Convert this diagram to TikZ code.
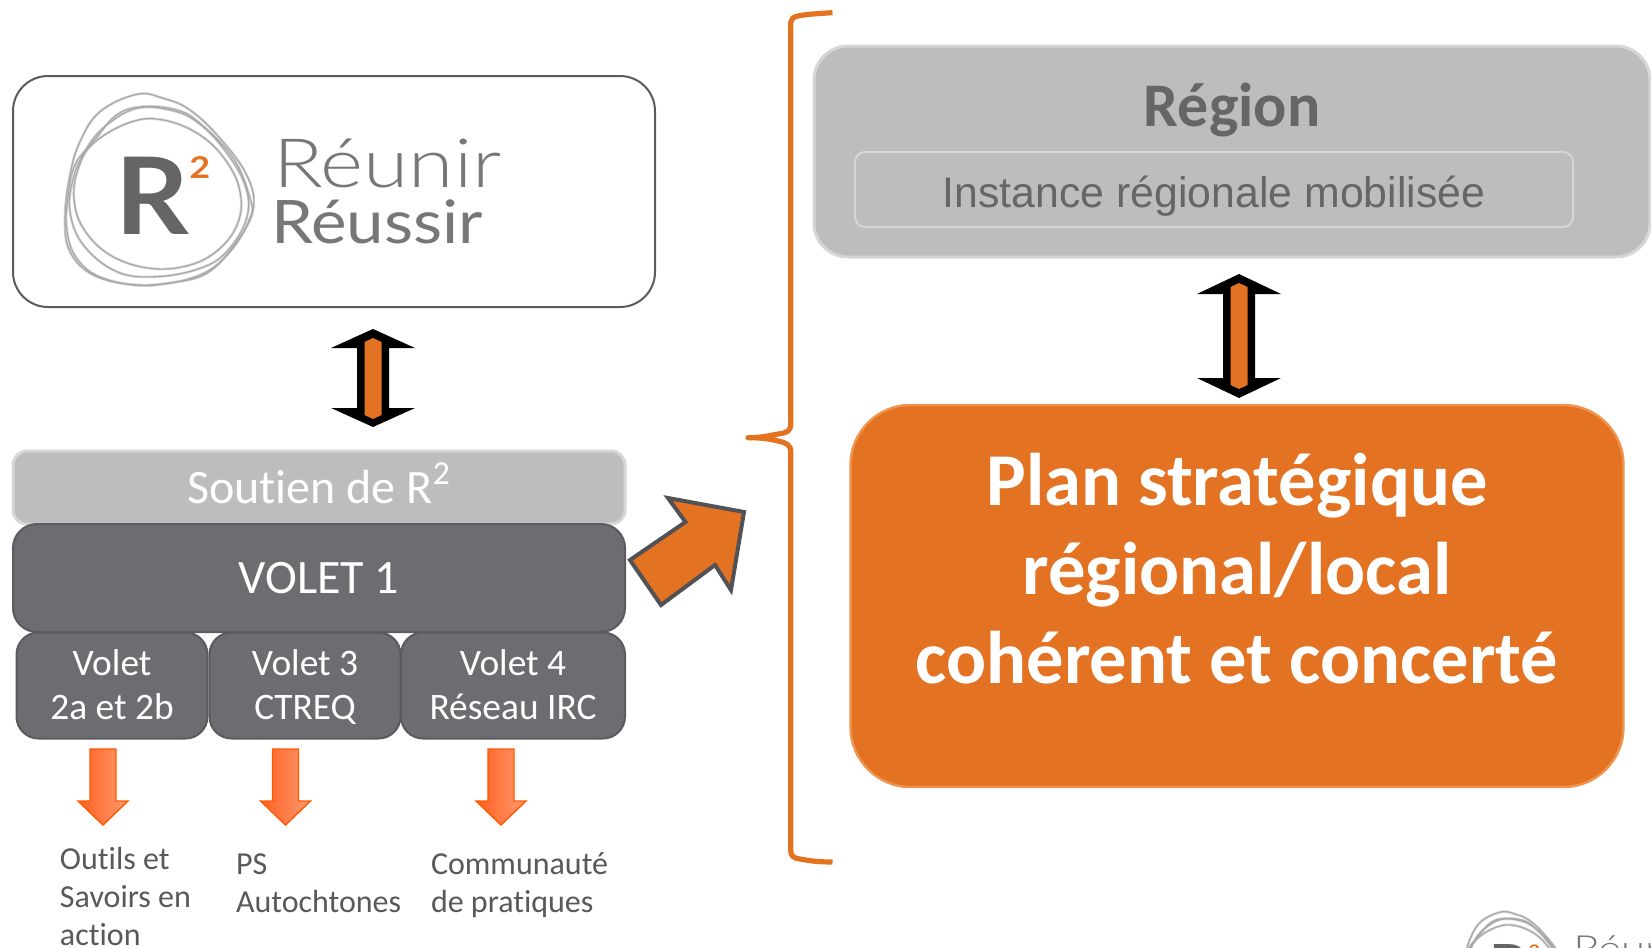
\documentclass[tikz,border=0pt]{standalone}
\usepackage{fontspec}
\setmainfont[Ligatures=NoCommon]{Carlito}
\newfontfamily\logofont{Lato}
\newfontfamily\logolight{Lato Light}
\newfontfamily\arialfont{Liberation Sans}
\definecolor{orangeR}{HTML}{E37222}
\definecolor{orangeEdge}{HTML}{F0954F}
\definecolor{greyBox}{HTML}{BDBDBD}
\definecolor{greyEdge}{HTML}{D6D6D6}
\definecolor{darkBox}{HTML}{6D6C71}
\definecolor{darkEdge}{HTML}{5B5A5F}
\definecolor{textGrey}{HTML}{595959}
\definecolor{regionText}{HTML}{666666}
\definecolor{ringGrey}{HTML}{A6A6A6}
\definecolor{logoGrey}{HTML}{777777}
\definecolor{downL}{HTML}{FF5F1F}
\definecolor{downR}{HTML}{FF9A70}
\tikzset{
  softbox/.style={rectangle,inner sep=0pt,outer sep=0pt,align=center},
  greybox/.style={softbox,fill=greyBox,draw=greyEdge,line width=1.5pt},
  darkbox/.style={softbox,fill=darkBox,draw=darkEdge,line width=1pt,text=white},
  dropnote/.style={inner sep=0pt,outer sep=0pt,align=left,anchor=north west,text=textGrey,font=\fontsize{16}{19}\selectfont},
  ring/.style={draw=ringGrey,line width=.55pt,fill=none},
  ringsoft/.style={draw=ringGrey!45,line width=1.3pt,fill=none},
  downarrow/.style={draw=orange!70!red,line width=.7pt,left color=downL,right color=downR},
  dblblack/.style={fill=black},
  dblcore/.style={fill=orangeR},
  bracestroke/.style={draw=orangeR!95!orange,line width=2.6pt,line cap=butt,line join=round}
}
\newcommand{\ringpaths}[1]{%
  \draw[#1] plot[smooth cycle,tension=.65] coordinates {(240,112)(340,105)(450,150)(530,230)(570,320)(565,410)(510,490)(420,540)(300,550)(180,510)(100,430)(72,340)(85,250)(130,175)};
  \draw[#1] plot[smooth cycle,tension=.65] coordinates {(280,65)(380,75)(450,115)(550,220)(600,340)(600,400)(540,500)(450,570)(300,600)(160,580)(80,520)(50,430)(55,330)(75,240)(130,170)(200,90)};
  \draw[#1] plot[smooth cycle,tension=.65] coordinates {(260,28)(150,80)(90,170)(60,270)(45,400)(60,500)(130,570)(250,600)(350,595)(470,565)(560,470)(610,370)(590,270)(510,160)(420,75)(340,40)};
  \draw[#1] plot[smooth cycle,tension=.65] coordinates {(70,280)(60,380)(100,480)(200,560)(320,575)(450,550)(530,500)(590,400)(585,300)(520,190)(440,110)(360,75)(260,70)(170,120)(110,190)};
}
\newcommand{\logobody}[2]{% #1 node scale, #2 prefix
  \ringpaths{ringsoft}
  \ringpaths{ring}
  \node[xscale=1.07*#1,yscale=#1,anchor=base west,inner sep=0pt,text=logoGrey!85!black,font=\logofont\bfseries\fontsize{53.5}{60}\selectfont] (#2r) at (195,447) {R};
  \node[xscale=1.2*#1,yscale=#1,anchor=base west,inner sep=0pt,text=orangeR,font=\logofont\bfseries\fontsize{15}{16}\selectfont] (#2two) at (417,279) {2};
  \node[xscale=1.21*#1,yscale=#1,anchor=base west,inner sep=0pt,text=logoGrey,font=\logolight\fontsize{34}{38}\selectfont] (#2a) at (668,306) {Réunir};
  \node[xscale=1.12*#1,yscale=#1,anchor=base west,inner sep=0pt,text=logoGrey,font=\logofont\fontsize{30}{34}\selectfont] (#2b) at (662,474) {Réussir};
}
\newcommand{\toprule}[2]{\rule[-#2pt]{0pt}{#1pt}}
\begin{document}
\begin{tikzpicture}[x=.5pt,y=-.5pt]
\clip (0,0) rectangle (1651,948);
\fill[white] (0,0) rectangle (1651,948);

% left top logo box
\node[softbox,draw=darkEdge,line width=1pt,fill=white,rounded corners=17.5pt,minimum width=321pt,minimum height=115.5pt] (r2box) at (334,191.5) {};
\begin{scope}[shift={(50,85)},x=.16667pt,y=-.16667pt]
  \logobody{1}{m}
\end{scope}

% double arrow left
\fill[dblblack] (373,329)--(415,348)--(389,348)--(389,408)--(415,408)--(373,427)--(331,408)--(357,408)--(357,348)--(331,348)--cycle;
\fill[dblcore] (373,338)--(381.5,342)--(381.5,415)--(373,419)--(364.5,415)--(364.5,342)--cycle;

% stacked boxes
\node[greybox,text=white,rounded corners=7pt,minimum width=306pt,minimum height=36.5pt,font=\fontsize{24}{28}\selectfont] (soutien) at (319,487.5) {\toprule{26.5}{5.5}Soutien de R\textsuperscript{2}};
\node[darkbox,rounded corners=12pt,minimum width=306pt,minimum height=54pt,font=\fontsize{24}{28}\selectfont] (volet1) at (319,578) {\toprule{24.7}{4.7}VOLET 1};
\node[darkbox,rounded corners=11pt,minimum width=95.5pt,minimum height=53pt,font=\fontsize{18.7}{22}\selectfont] (volet2) at (112,685.5) {\toprule{16}{0}Volet\\\toprule{0}{4}2a et 2b};
\node[darkbox,rounded corners=11pt,minimum width=95.5pt,minimum height=53pt,font=\fontsize{18.7}{22}\selectfont] (volet3) at (305,685.5) {\toprule{16}{0}Volet 3\\\toprule{0}{4}CTREQ};
\node[darkbox,rounded corners=11pt,minimum width=112pt,minimum height=53pt,font=\fontsize{18.7}{22}\selectfont] (volet4) at (513,685.5) {\toprule{16}{0}Volet 4\\\toprule{0}{4}Réseau IRC};

% small down arrows
\foreach \c in {103,285.5,501}{
  \path[downarrow] (\c-13,749)--(\c+13,749)--(\c+13,801)--(\c+25,801)--(\c,825)--(\c-25,801)--(\c-13,801)--cycle;
}
\node[dropnote] (noteA) at (60,847) {Outils et\\Savoirs en\\action};
\node[dropnote] (noteB) at (236,853.5) {PS\\Autochtones};
\node[dropnote] (noteC) at (431,853) {Communauté\\de pratiques};

% big diagonal arrow
\path[fill=orangeR,draw=darkEdge!90!black,line width=2pt,line join=miter] (668,498)--(744,512)--(731,590)--(715,565)--(661,605)--(630,560)--(685.5,522)--cycle;

% brace
\path[bracestroke] (832.5,12.7) .. controls (810,14) and (797,15) .. (793,18) .. controls (791,20) and (790.7,22) .. (790.7,26)
  -- (790.7,424) .. controls (790.7,431) and (787,433) .. (778,434) .. controls (768,436) and (760,437.7) .. (748,437.7)
  .. controls (760,437.7) and (768,438.5) .. (778,441) .. controls (787,443) and (790.7,445) .. (790.7,452)
  -- (790.7,850) .. controls (790.7,856) and (793,858) .. (800,859) .. controls (810,861) and (820,862) .. (832.5,862);

% region
\node[greybox,rounded corners=17pt,minimum width=418pt,minimum height=105.5pt] (region) at (1232,151.5) {};
\node[softbox,text=regionText,font=\bfseries\fontsize{31}{36}\selectfont,anchor=base] (regionT) at (1232,126) {Région};
\node[softbox,draw=greyEdge,line width=1pt,rounded corners=5pt,minimum width=359pt,minimum height=37.5pt] (instance) at (1214,189.5) {};
\node[softbox,text=regionText,font=\arialfont\fontsize{21.4}{24}\selectfont,anchor=base] (instanceT) at (1214,207) {Instance régionale mobilisée};

% double arrow right
\fill[dblblack] (1239,274)--(1281,294)--(1255,294)--(1255,378)--(1281,378)--(1239,398)--(1197,378)--(1223,378)--(1223,294)--(1197,294)--cycle;
\fill[dblcore] (1239,283)--(1247.5,287)--(1247.5,385)--(1239,389)--(1230.5,385)--(1230.5,287)--cycle;

% plan box
\node[softbox,fill=orangeR,draw=orangeEdge,line width=1.2pt,rounded corners=30pt,minimum width=386.5pt,minimum height=191pt] (plan) at (1237,596) {};
\node[inner sep=0pt,outer sep=0pt,align=center,text=white,font=\bfseries\fontsize{37.3}{44.5}\selectfont] (planT) at (1237,568.5) {Plan stratégique\\régional/local\\cohérent et concerté};

% cut-off logo bottom right
\begin{scope}[shift={(1455,907)},x=.08833pt,y=-.08833pt]
  \logobody{.53}{s}
\end{scope}
\end{tikzpicture}
\end{document}
